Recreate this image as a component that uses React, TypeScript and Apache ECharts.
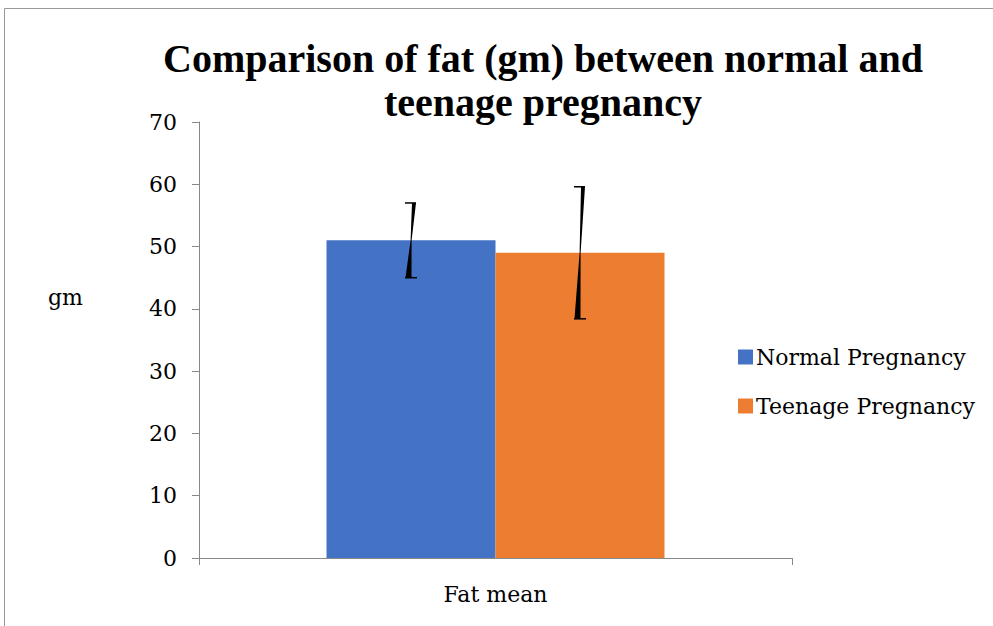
import React, { useEffect, useRef } from "react";
import * as echarts from "echarts";

const categories = ["Fat mean"];
const seriesNames = ["Normal Pregnancy", "Teenage Pregnancy"];
const normalMean = [51];
const teenageMean = [49];
const normalErr = [6];
const teenageErr = [10.6];
const yTicks = [0, 10, 20, 30, 40, 50, 60, 70];
const titleText = "Comparison of fat (gm) between normal and\nteenage pregnancy";
const yName = "gm";

const BAR_W = 169;
const FONT = "DejaVu Serif";

function errSeries(name: string, means: number[], errs: number[], offset: number) {
  return {
    type: "custom",
    name: name + " err",
    z: 10,
    data: means.map((m, i) => [i, m - errs[i], m + errs[i]]),
    renderItem: (params: any, api: any) => {
      const top = api.coord([api.value(0), api.value(2)]);
      const bot = api.coord([api.value(0), api.value(1)]);
      const cx = top[0] + offset;
      const ty = top[1];
      const by = bot[1];
      const my = (ty + by) / 2;
      return {
        type: "group",
        children: [
          {
            type: "polygon",
            shape: {
              points: [
                [cx + 1, ty],
                [cx + 5, ty],
                [cx + 0.6, my],
                [cx + 0.5, by],
                [cx - 5.5, by],
                [cx - 0.4, my],
              ],
            },
            style: { fill: "#000" },
          },
          {
            type: "line",
            shape: { x1: cx - 6, y1: ty, x2: cx + 5, y2: ty },
            style: { stroke: "#000", lineWidth: 1.5 },
          },
          {
            type: "line",
            shape: { x1: cx - 6, y1: by, x2: cx + 6, y2: by },
            style: { stroke: "#000", lineWidth: 1.5 },
          },
        ],
      };
    },
  };
}

export default function App() {
  const ref = useRef<HTMLDivElement>(null);
  useEffect(() => {
    const chart = echarts.init(ref.current!, undefined, { renderer: "svg" });
    chart.setOption({
      animation: false,
      backgroundColor: "#fff",
      title: {
        text: titleText,
        left: 538,
        textAlign: "center",
        top: 31,
        textStyle: {
          fontFamily: "Liberation Serif",
          fontWeight: "bold",
          fontSize: 40,
          lineHeight: 44,
          color: "#000",
        },
      },
      legend: {
        orient: "vertical",
        left: 733,
        top: 341,
        itemWidth: 15,
        itemHeight: 15,
        itemGap: 27,
        data: seriesNames,
        icon: "rect",
        textStyle: { fontFamily: FONT, fontSize: 22, color: "#000", padding: [0, 0, 0, -2] },
      },
      grid: { left: 199, right: 201, top: 122, bottom: 68 },
      xAxis: {
        type: "category",
        data: categories,
        axisLine: { lineStyle: { color: "#888" } },
        axisTick: { show: true, alignWithLabel: false, length: 7, lineStyle: { color: "#888" } },
        axisLabel: { fontFamily: FONT, fontSize: 22, color: "#000", margin: 25 },
      },
      yAxis: {
        type: "value",
        min: 0,
        max: 70,
        interval: 10,
        splitLine: { show: false },
        axisLine: { show: true, lineStyle: { color: "#888" } },
        axisTick: { show: true, length: 7, lineStyle: { color: "#888" } },
        axisLabel: {
          fontFamily: FONT,
          fontSize: 22,
          color: "#000",
          margin: 22,
          formatter: (v: number) => (yTicks.includes(v) ? String(v) : ""),
        },
      },
      series: [
        {
          type: "bar",
          name: seriesNames[0],
          data: normalMean,
          barWidth: BAR_W,
          barGap: "0%",
          itemStyle: { color: "#4472C4" },
        },
        {
          type: "bar",
          name: seriesNames[1],
          data: teenageMean,
          barWidth: BAR_W,
          barGap: "0%",
          itemStyle: { color: "#ED7D31" },
        },
        errSeries(seriesNames[0], normalMean, normalErr, -BAR_W / 2),
        errSeries(seriesNames[1], teenageMean, teenageErr, BAR_W / 2),
      ],
      graphic: [
        {
          type: "rect",
          shape: { x: 4.5, y: 8.5, width: 1100, height: 800 },
          style: { fill: "none", stroke: "#999", lineWidth: 1 },
          silent: true,
        },
        {
          type: "text",
          left: 48,
          top: 286,
          style: { text: yName, fontFamily: FONT, fontSize: 22, fill: "#000" },
        },
      ],
    });
    return () => chart.dispose();
  }, []);
  return <div ref={ref} style={{ position: "fixed", left: 0, top: 0, width: 993, height: 626 }} />;
}
